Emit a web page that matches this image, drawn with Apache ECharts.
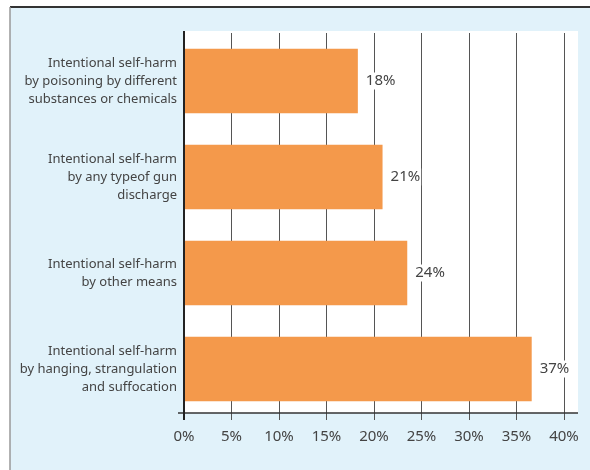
<!DOCTYPE html>
<html>
<head>
    <meta charset="utf-8">
    <title>Self-harm</title>
    <style>
        html, body { margin: 0; padding: 0; background: #fff; }
        #main { width: 590px; height: 470px; }
    </style>
</head>
<body>
<div id="main"></div>
<script src="https://cdn.jsdelivr.net/npm/echarts@6/dist/echarts.min.js"></script>
<script>
    var categories = [
        'Intentional self-harm\nby poisoning by different\nsubstances or chemicals',
        'Intentional self-harm\nby any typeof gun\ndischarge',
        'Intentional self-harm\nby other means',
        'Intentional self-harm\nby hanging, strangulation\nand suffocation'
    ];
    var shares = [18.3, 20.9, 23.5, 36.6];
    var shareLabels = ['18%', '21%', '24%', '37%'];
    var xTicks = [0, 5, 10, 15, 20, 25, 30, 35, 40];

    var textColor = '#444';
    var font = 'Noto Sans';

    var myChart = echarts.init(document.getElementById('main'));
    myChart.setOption({
        animation: false,
        textStyle: { fontFamily: font },
        grid: {
            left: 184,
            width: 380,
            top: 33,
            height: 384,
            containLabel: false
        },
        xAxis: {
            type: 'value',
            min: xTicks[0],
            max: xTicks[xTicks.length - 1],
            interval: 5,
            axisLine: { show: false },
            axisTick: { show: true, length: 3, lineStyle: { color: '#555', width: 1 } },
            splitLine: { show: true, lineStyle: { color: '#555', width: 1 } },
            axisLabel: {
                color: textColor,
                fontSize: 15,
                margin: 12,
                formatter: '{value}%'
            }
        },
        yAxis: {
            type: 'category',
            inverse: true,
            data: categories,
            axisLine: { show: false },
            axisTick: { show: false },
            axisLabel: {
                color: textColor,
                fontSize: 13,
                lineHeight: 18,
                align: 'right',
                margin: 7
            }
        },
        series: [{
            type: 'bar',
            data: shares,
            barCategoryGap: '33%',
            itemStyle: { color: '#f4994b' },
            label: {
                show: true,
                position: 'right',
                distance: 7,
                color: textColor,
                fontSize: 15,
                backgroundColor: '#fff',
                padding: [1, 1],
                formatter: function (p) { return shareLabels[p.dataIndex]; }
            },
            z: 3
        }]
    });

    // frame, white panel and axis lines placed from the grid's own scale
    var p0 = myChart.convertToPixel({ gridIndex: 0 }, [0, categories[0]]);
    var p1 = myChart.convertToPixel({ gridIndex: 0 }, [40, categories[0]]);
    var baseY = 413;
    myChart.setOption({
        graphic: [
            { type: 'rect', z: -10, shape: { x: 10, y: 7, width: 580, height: 463 }, style: { fill: '#e1f2fa' } },
            { type: 'line', z: -9, shape: { x1: 10, y1: 7, x2: 590, y2: 7 }, style: { stroke: '#333', lineWidth: 2 } },
            { type: 'line', z: -9, shape: { x1: 10, y1: 7, x2: 10, y2: 470 }, style: { stroke: '#999', lineWidth: 1.5 } },
            { type: 'rect', z: -8, shape: { x: p0[0], y: 31, width: p1[0] - p0[0] + 14, height: baseY - 31 }, style: { fill: '#fff' } },
            { type: 'line', z: 10, shape: { x1: p0[0] - 6, y1: baseY, x2: p1[0] + 14, y2: baseY }, style: { stroke: '#333', lineWidth: 1.5 } },
            { type: 'line', z: 10, shape: { x1: p0[0], y1: 31, x2: p0[0], y2: baseY + 7 }, style: { stroke: '#222', lineWidth: 2 } }
        ]
    });
</script>
</body>
</html>
